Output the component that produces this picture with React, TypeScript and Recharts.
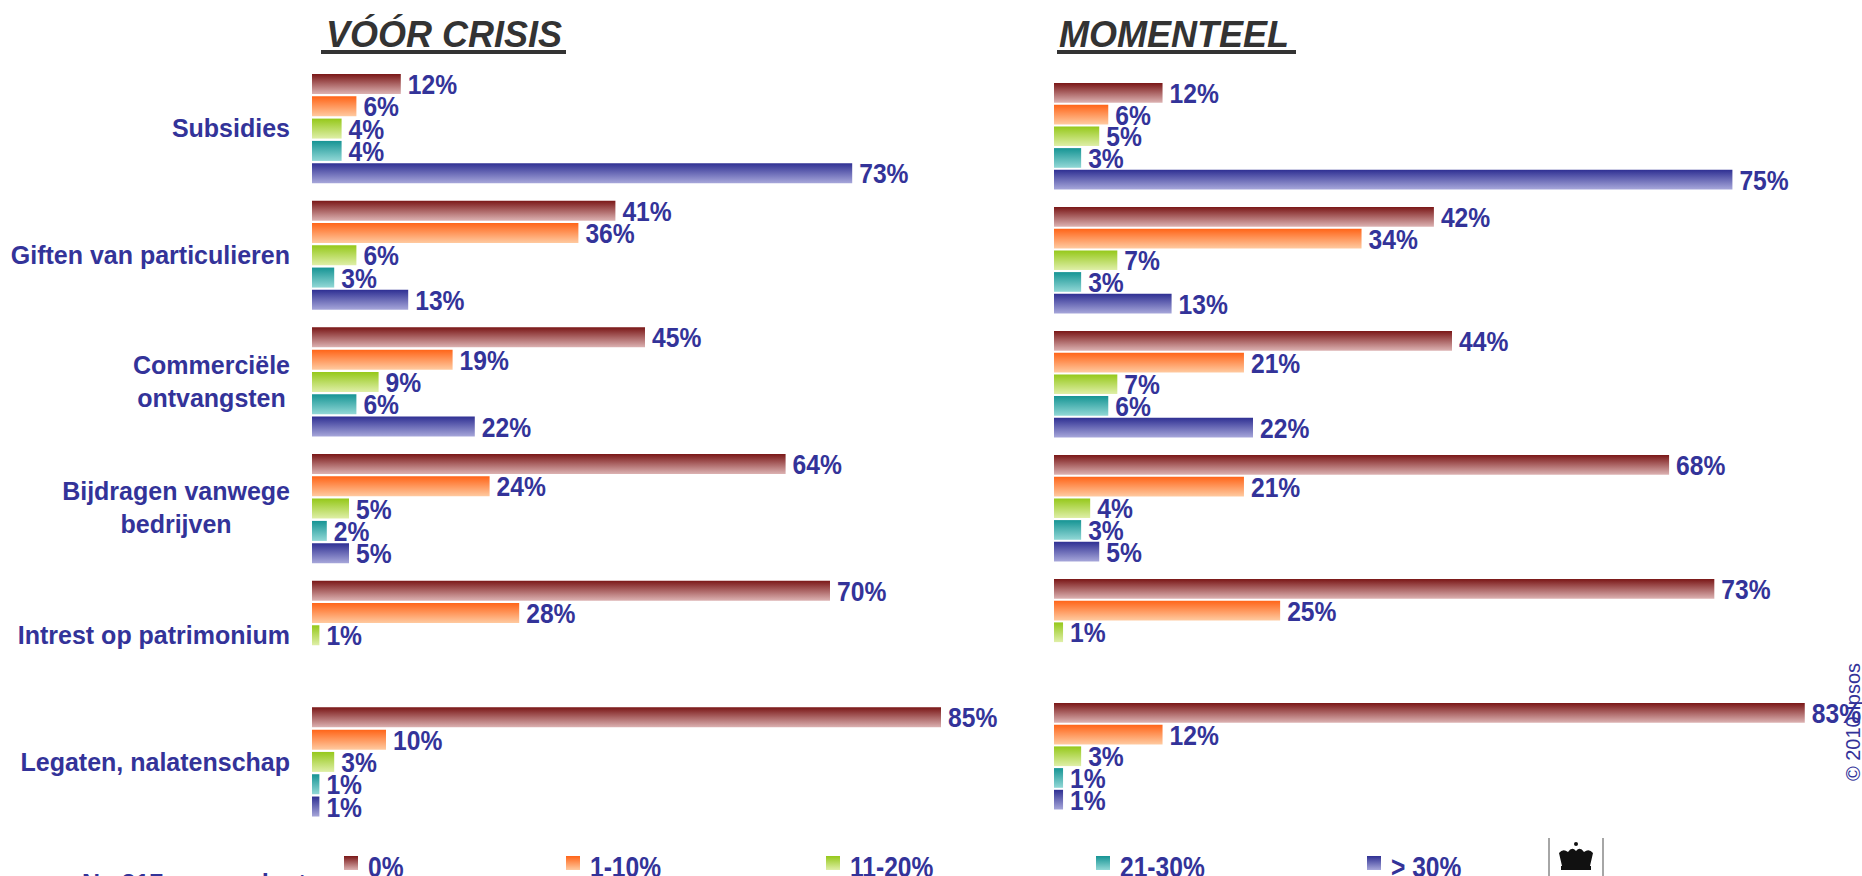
import React from "react";
import { BarChart, Bar, XAxis, YAxis, LabelList } from "recharts";

const categories = [
  "Subsidies",
  "Giften van particulieren",
  "Commerciële ontvangsten",
  "Bijdragen vanwege bedrijven",
  "Intrest op patrimonium",
  "Legaten, nalatenschap",
];

// how the category labels wrap on the axis
const tickLines = [
  ["Subsidies"],
  ["Giften van particulieren"],
  ["Commerciële", "ontvangsten"],
  ["Bijdragen vanwege", "bedrijven"],
  ["Intrest op patrimonium"],
  ["Legaten, nalatenschap"],
];

const bands = ["0%", "1-10%", "11-20%", "21-30%", "> 30%"];

// VÓÓR CRISIS
const before0 = [12, 41, 45, 64, 70, 85];
const before1to10 = [6, 36, 19, 24, 28, 10];
const before11to20 = [4, 6, 9, 5, 1, 3];
const before21to30 = [4, 3, 6, 2, 0, 1];
const beforeOver30 = [73, 13, 22, 5, 0, 1];

// MOMENTEEL
const now0 = [12, 42, 44, 68, 73, 83];
const now1to10 = [6, 34, 21, 21, 25, 12];
const now11to20 = [5, 7, 7, 4, 1, 3];
const now21to30 = [3, 3, 6, 3, 0, 1];
const nowOver30 = [75, 13, 22, 5, 0, 1];

const gradients = [
  ["#7a1717", "#dcb2b2"],
  ["#ff6418", "#ffcaa0"],
  ["#95c81a", "#dfefa8"],
  ["#169494", "#92d8d6"],
  ["#2f3093", "#a7a7da"],
];

const keys = ["b0", "b1", "b2", "b3", "b4"];

const beforeData = categories.map((name, i) => ({
  name,
  b0: before0[i],
  b1: before1to10[i],
  b2: before11to20[i],
  b3: before21to30[i],
  b4: beforeOver30[i],
}));

const nowData = categories.map((name, i) => ({
  name,
  b0: now0[i],
  b1: now1to10[i],
  b2: now11to20[i],
  b3: now21to30[i],
  b4: nowOver30[i],
}));

const BLUE = "#333399";
const SANS = "'Liberation Sans', Arial, sans-serif";
const TICK_FONT = `bold 25px ${SANS}`;
// no narrow face installed, so squeeze the bold sans horizontally
const SQUEEZE = 0.82;
const LABEL_SQUEEZE = 0.88;

let ctx: CanvasRenderingContext2D | null = null;
function textWidth(s: string) {
  if (!ctx) ctx = document.createElement("canvas").getContext("2d");
  if (!ctx) return s.length * 13;
  ctx.font = TICK_FONT;
  return ctx.measureText(s).width;
}

function CategoryTick({ y, payload }: any) {
  const idx = categories.indexOf(payload.value);
  const lines = tickLines[idx] || [payload.value];
  const right = 290;
  if (lines.length === 1) {
    return (
      <text x={right} y={y + 9} textAnchor="end" fill={BLUE} fontFamily={SANS} fontSize={25} fontWeight="bold">
        {lines[0]}
      </text>
    );
  }
  const w = Math.max(...lines.map(textWidth));
  const cx = right - w / 2;
  return (
    <g>
      {lines.map((l, i) => (
        <text key={i} x={cx} y={y - 8 + i * 33} textAnchor="middle" fill={BLUE} fontFamily={SANS} fontSize={25} fontWeight="bold">
          {l}
        </text>
      ))}
    </g>
  );
}

function ValueLabel(props: any) {
  const vb = props.viewBox || props;
  const v = Number(props.value);
  if (!(v > 0)) return null;
  const x = vb.x + vb.width + 7;
  const y = vb.y + vb.height / 2 + 10;
  return (
    <text
      transform={`translate(${x},${y}) scale(${LABEL_SQUEEZE},1)`}
      fill={BLUE}
      fontFamily={SANS}
      fontSize={28}
      fontWeight="bold"
    >
      {`${v}%`}
    </text>
  );
}

function Gradients({ prefix }: { prefix: string }) {
  return (
    <defs>
      {gradients.map(([top, bottom], i) => (
        <linearGradient key={i} id={`${prefix}${i}`} x1="0" y1="0" x2="0" y2="1">
          <stop offset="0%" stopColor={top} />
          <stop offset="100%" stopColor={bottom} />
        </linearGradient>
      ))}
    </defs>
  );
}

function renderBars(prefix: string, barSize: number) {
  return keys.map((k, i) => (
    <Bar key={k} dataKey={k} name={bands[i]} fill={`url(#${prefix}${i})`} barSize={barSize} isAnimationActive={false}>
      <LabelList dataKey={k} content={<ValueLabel />} />
    </Bar>
  ));
}

const legendX = [344, 566, 826, 1096, 1367];

export default function App() {
  return (
    <div style={{ position: "absolute", left: 0, top: 0, width: 1862, height: 876, overflow: "hidden", background: "#fff" }}>
      <div style={{ position: "absolute", left: 0, top: 0 }}>
        <BarChart
          width={1030}
          height={826}
          data={beforeData}
          layout="vertical"
          margin={{ top: 65, right: 52, bottom: 1, left: 0 }}
          barGap={2.3}
        >
          <Gradients prefix="lg" />
          <XAxis type="number" domain={[0, 90]} hide />
          <YAxis type="category" dataKey="name" width={312} axisLine={false} tickLine={false} tick={<CategoryTick />} interval={0} />
          {renderBars("lg", 20)}
        </BarChart>
      </div>
      <div style={{ position: "absolute", left: 1040, top: 0 }}>
        <BarChart
          width={822}
          height={819}
          data={nowData}
          layout="vertical"
          margin={{ top: 74, right: 12, bottom: 1, left: 14 }}
          barGap={2}
        >
          <Gradients prefix="rg" />
          <XAxis type="number" domain={[0, 88]} hide />
          <YAxis type="category" dataKey="name" hide />
          {renderBars("rg", 19.7)}
        </BarChart>
      </div>
      <svg width={1862} height={876} style={{ position: "absolute", left: 0, top: 0, pointerEvents: "none" }}>
        <Gradients prefix="kg" />
        <text x={326} y={47} fontFamily={SANS} fontSize={36} fontWeight="bold" fontStyle="italic" fill="#333333">
          VÓÓR CRISIS
        </text>
        <rect x={321} y={50} width={245} height={4} fill="#333333" />
        <text x={1059} y={47} fontFamily={SANS} fontSize={36} fontWeight="bold" fontStyle="italic" fill="#333333">
          MOMENTEEL
        </text>
        <rect x={1057} y={50} width={239} height={4} fill="#333333" />

        {bands.map((b, i) => (
          <g key={b}>
            <rect x={legendX[i]} y={856} width={14} height={14} fill={`url(#kg${i})`} />
            <text
              transform={`translate(${legendX[i] + 24},877) scale(${SQUEEZE},1)`}
              fontFamily={SANS}
              fontSize={30}
              fontWeight="bold"
              fill={BLUE}
            >
              {b}
            </text>
          </g>
        ))}

        <text x={82} y={892} fontFamily={SANS} fontSize={25} fontWeight="bold" fill={BLUE}>
          N= 217 respondenten
        </text>

        <text transform="translate(1860,722) rotate(-90)" textAnchor="middle" fontFamily={SANS} fontSize={20} fill={BLUE}>
          © 2010 Ipsos
        </text>

        {/* logo block */}
        <line x1={1549} y1={838} x2={1549} y2={876} stroke="#888" strokeWidth={1.5} />
        <line x1={1603} y1={838} x2={1603} y2={876} stroke="#888" strokeWidth={1.5} />
        <g fill="#111">
          <circle cx={1576} cy={844} r={2} />
          <path d="M1562 866 L1559 853 Q1563 848 1568 852 Q1572 846 1576 851 Q1580 846 1584 852 Q1589 848 1593 853 L1590 866 Z" />
          <rect x={1561} y={866} width={30} height={4} />
        </g>
      </svg>
    </div>
  );
}
